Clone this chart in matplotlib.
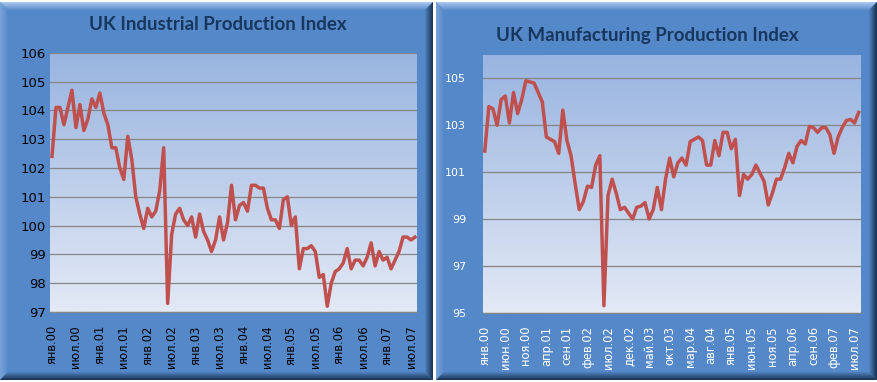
import numpy as np
import matplotlib
matplotlib.use("Agg")
import matplotlib.pyplot as plt
from matplotlib.colors import LinearSegmentedColormap, to_rgb
from matplotlib.patches import Polygon, Rectangle

# monthly data, Jan 2000 - Aug 2007
months = ['янв', 'фев', 'мар', 'апр', 'май', 'июн', 'июл', 'авг', 'сен', 'окт', 'ноя', 'дек']
categories = [f"{m}.{y:02d}" for y in range(0, 8) for m in months][:92]

industrial = [102.4, 104.1, 104.1, 103.5, 104.1, 104.7, 103.4, 104.2, 103.3, 103.7, 104.4, 104.1,
              104.6, 103.9, 103.5, 102.7, 102.7, 102.0, 101.6, 103.1, 102.3, 101.0, 100.4, 99.9,
              100.6, 100.3, 100.5, 101.2, 102.7, 97.3, 99.7, 100.4, 100.6, 100.2, 100.0, 100.3,
              99.6, 100.4, 99.8, 99.5, 99.1, 99.5, 100.3, 99.5, 100.1, 101.4, 100.2, 100.7,
              100.8, 100.5, 101.4, 101.4, 101.3, 101.3, 100.6, 100.2, 100.2, 99.9, 100.9, 101.0,
              100.0, 100.3, 98.5, 99.2, 99.2, 99.3, 99.1, 98.2, 98.3, 97.2, 98.0, 98.4,
              98.5, 98.7, 99.2, 98.5, 98.8, 98.8, 98.6, 98.9, 99.4, 98.6, 99.1, 98.8,
              98.9, 98.5, 98.8, 99.1, 99.6, 99.6, 99.5, 99.6]

manufacturing = [101.9, 103.8, 103.7, 103.0, 104.1, 104.25, 103.1, 104.4, 103.5, 104.1, 104.9, 104.85,
                 104.8, 104.4, 104.0, 102.5, 102.4, 102.3, 101.8, 103.65, 102.35, 101.7, 100.5, 99.4,
                 99.75, 100.4, 100.35, 101.3, 101.7, 95.3, 100.0, 100.7, 100.1, 99.4, 99.5, 99.25,
                 99.0, 99.5, 99.55, 99.7, 99.0, 99.4, 100.35, 99.4, 100.7, 101.6, 100.8, 101.4,
                 101.6, 101.3, 102.3, 102.4, 102.5, 102.35, 101.3, 101.3, 102.35, 101.7, 102.7, 102.7,
                 102.0, 102.4, 100.0, 100.9, 100.7, 100.9, 101.3, 100.95, 100.6, 99.6, 100.1, 100.7,
                 100.7, 101.2, 101.8, 101.4, 102.1, 102.35, 102.2, 102.95, 102.9, 102.7, 102.9, 102.9,
                 102.6, 101.8, 102.5, 102.9, 103.2, 103.25, 103.1, 103.55]

W, H = 877, 382
fig = plt.figure(figsize=(W / 100, H / 100), dpi=100)
fig.patch.set_facecolor('white')

# background layer in pixel coordinates for the bevelled frames
bg = fig.add_axes([0, 0, 1, 1])
bg.set_xlim(0, W)
bg.set_ylim(H, 0)
bg.axis('off')

panel_blue = np.array(to_rgb('#5588c8'))
light = np.array(to_rgb('#a6c6ee'))
dark = np.array(to_rgb('#1a3456'))


def frame(x0, y0, x1, y1, bw=8):
    bg.add_patch(Rectangle((x0, y0), x1 - x0, y1 - y0, color=panel_blue, lw=0))
    for j in range(bw):
        t = j / bw
        c_top = light * (1 - t) + panel_blue * t
        c_left = (light * 0.4 + panel_blue * 0.6) * (1 - t) + panel_blue * t
        c_right = dark * (1 - t) + panel_blue * t
        c_bot = dark * (1 - t) + panel_blue * t
        a, b = j, j + 1
        bg.add_patch(Polygon([(x0 + a, y0 + a), (x1 - a, y0 + a), (x1 - b, y0 + b), (x0 + b, y0 + b)], color=c_top, lw=0))
        bg.add_patch(Polygon([(x0 + a, y0 + a), (x0 + b, y0 + b), (x0 + b, y1 - b), (x0 + a, y1 - a)], color=c_left, lw=0))
        bg.add_patch(Polygon([(x1 - a, y0 + a), (x1 - b, y0 + b), (x1 - b, y1 - b), (x1 - a, y1 - a)], color=c_right, lw=0))
        bg.add_patch(Polygon([(x0 + a, y1 - a), (x1 - a, y1 - a), (x1 - b, y1 - b), (x0 + b, y1 - b)], color=c_bot, lw=0))


frame(0, 2, 433, 380)
frame(436, 2, 877, 380)

grad = LinearSegmentedColormap.from_list('plotbg', ['#e3e9f5', '#98b4e0'])
red = '#c0504d'
title_color = '#17375e'


def make_panel(rect, values, ymin, ymax, yticks, step, title, tx, ty, lab_color, ysize, ypad):
    ax = fig.add_axes(rect)
    ax.imshow(np.linspace(0, 1, 256)[:, None], extent=[0, 1, 0, 1], transform=ax.transAxes,
              cmap=grad, origin='lower', aspect='auto', zorder=0)
    x = np.arange(len(values))
    ax.plot(x, values, color=red, lw=2.5, zorder=3, solid_joinstyle='round')
    ax.set_xlim(-0.5, len(values) - 0.5)
    ax.set_ylim(ymin, ymax)
    ax.set_yticks(yticks)
    ax.set_yticklabels([str(v) for v in yticks])
    ax.grid(axis='y', color='#868686', lw=0.9, zorder=1)
    ax.set_axisbelow(True)
    ax.set_xticks(x[::step])
    ax.set_xticklabels(categories[::step], rotation=90)
    for s in ['left', 'right', 'top']:
        ax.spines[s].set_visible(False)
    ax.spines['bottom'].set_color('#868686')
    ax.spines['bottom'].set_linewidth(0.9)
    ax.tick_params(axis='x', length=0, pad=9.5, labelsize=8.3, labelcolor=lab_color)
    ax.tick_params(axis='y', length=0, pad=ypad, labelsize=ysize, labelcolor=lab_color)
    fig.text(tx / W, 1 - ty / H, title, ha='center', va='center', fontsize=13.5,
             fontweight='bold', family='Lato', color=title_color)
    return ax


make_panel([50 / W, 1 - 312 / H, 367 / W, (312 - 52.7) / H], industrial, 97, 106,
           list(range(97, 107)), 6, 'UK Industrial Production Index', 218, 25, 'black', 9.5, 3)
make_panel([482.7 / W, 1 - 312.7 / H, 378 / W, (312.7 - 55) / H], manufacturing, 95, 106,
           [95, 97, 99, 101, 103, 105], 5, 'UK Manufacturing Production Index', 647, 35, 'white', 8, 12)

fig.savefig('out.png', dpi=100)
